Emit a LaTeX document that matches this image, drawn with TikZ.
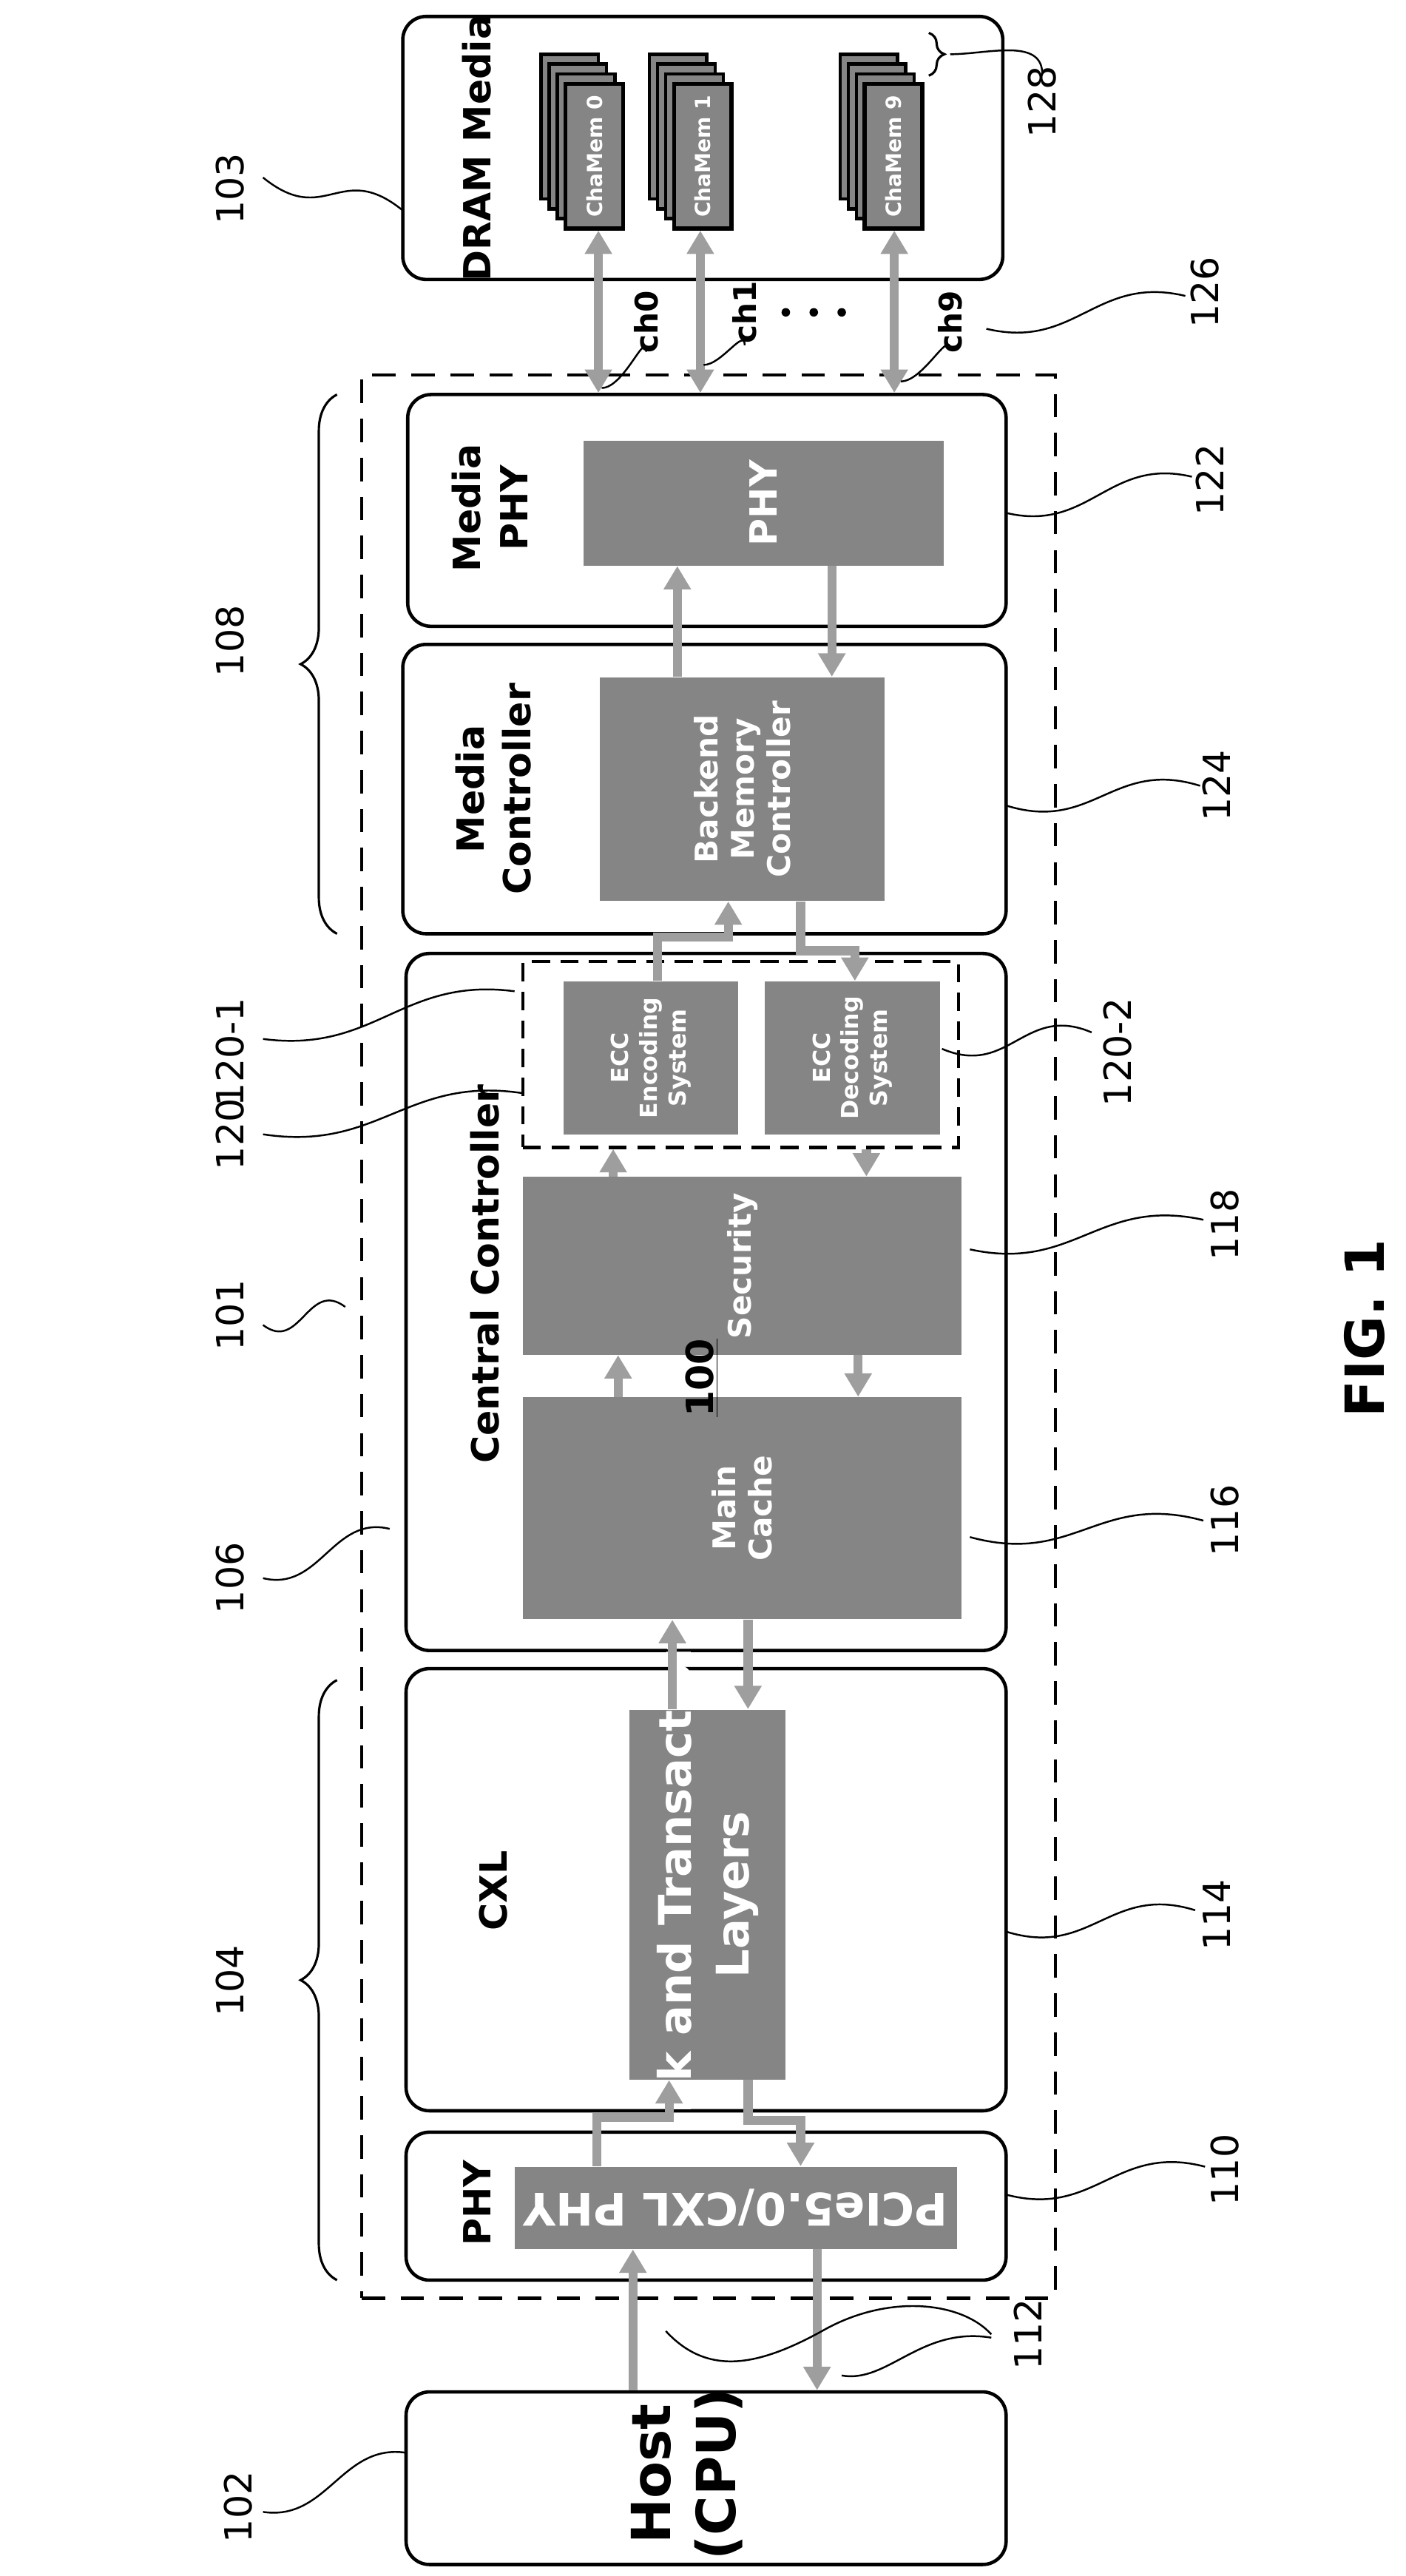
\documentclass[tikz,border=0pt]{standalone}
\usepackage{fontspec}
\setmainfont{DejaVu Sans}
\usetikzlibrary{positioning,fit,calc,arrows.meta,decorations.pathreplacing}
\tikzset{
  box/.style={draw,line width=1.3pt,rounded corners=9pt,inner sep=0pt},
  blk/.style={fill=black!48,inner sep=0pt},
  txt/.style={rotate=90,font=\bfseries\Large,align=center},
  wtxt/.style={rotate=90,font=\bfseries\small,text=white,align=center},
  num/.style={rotate=90,font=\Large},
  bus/.style={line width=3.5pt,draw=black!38,-{Triangle[width=10pt,length=9pt,fill=black!38]}},
  dbus/.style={bus,{Triangle[width=10pt,length=9pt,fill=black!38]}-{Triangle[width=10pt,length=9pt,fill=black!38]}},
  lead/.style={line width=0.7pt},
  brc/.style={line width=0.9pt,decorate,decoration={brace,amplitude=14pt}}
}
\newcommand\leader[2]{\draw[lead] (#1) .. controls ($(#1)!0.45!(#2)+(0,22)$) and ($(#1)!0.55!(#2)+(0,-22)$) .. (#2);}
\begin{document}
\begin{tikzpicture}[x=0.02222cm,y=-0.02222cm]
\useasboundingbox (0,0) rectangle (855,1567);
% outer system
\node (sys) [draw,line width=1.2pt,dash pattern=on 9pt off 6pt,inner sep=0pt,fit={(220,228)(642,1398)}] {};
% DRAM media
\node (dram) [box,fit={(245,10)(610,170)}] {};
\node[txt] at (290,90) {DRAM Media};
\foreach \n/\x in {0/344,1/410,9/526}{
  \foreach \k in {3,2,1}
    \draw[fill=black!48,line width=1.3pt] (\x-5*\k,51-6*\k) rectangle ++(35,88);
  \node (cm\n) [blk,draw,line width=1.6pt,fit={(\x,51)(\x+35,139)}] {};
  \node[wtxt,font=\bfseries\footnotesize] at (cm\n) {ChaMem \n};
}
\draw[brc,decoration={amplitude=6pt}] (565,20) -- (565,46);
% media PHY
\node (mphy) [box,fit={(248,240)(612,381)}] {};
\node (phyi) [blk,fit={(355,268)(574,344)}] {};
\node[txt] at (298,309) {Media\\PHY};
\node[wtxt,font=\bfseries\Large] at (phyi) {PHY};
% media controller
\node (mctl) [box,fit={(245,392)(612,568)}] {};
\node (bmc) [blk,fit={(365,412)(538,548)}] {};
\node[txt] at (300,480) {Media\\Controller};
\node[wtxt,font=\bfseries\large] at (bmc) {Backend\\Memory\\Controller};
% central controller
\node (cctl) [box,fit={(247,580)(612,1004)}] {};
\node[txt] at (295,775) {Central Controller};
\node (ecc) [draw,line width=1.2pt,dash pattern=on 7pt off 4pt,inner sep=0pt,fit={(318,585)(583,698)}] {};
\node (enc) [blk,fit={(343,597)(449,690)}] {};
\node (dec) [blk,fit={(465,597)(572,690)}] {};
\node[wtxt] at (enc) {ECC\\Encoding\\System};
\node[wtxt] at (dec) {ECC\\Decoding\\System};
\node (sec) [blk,fit={(318,716)(585,824)}] {};
\node[wtxt,font=\bfseries\large] at (sec) {Security};
\node (mc) [blk,fit={(318,850)(585,985)}] {};
\node[wtxt,font=\bfseries\large] at (mc) {Main\\Cache};
% CXL
\node (cxl) [box,fit={(247,1015)(612,1284)}] {};
\node[txt] at (300,1150) {CXL};
\node (ltl) [blk,fit={(383,1040)(478,1265)}] {};
\node[wtxt,font=\bfseries\LARGE] at (ltl) {Link and Transaction\\Layers};
% PHY
\node (phy) [box,fit={(247,1297)(612,1387)}] {};
\node (pcie) [blk,fit={(313,1318)(582,1368)}] {};
\node[txt] at (290,1340) {PHY};
\node[rotate=180,text=white,font=\bfseries\LARGE] at (pcie) {PCIe5.0/CXL PHY};
% host
\node (host) [box,fit={(247,1455)(612,1560)}] {};
\node[txt,font=\bfseries\huge] at (418,1505) {Host\\(CPU)};
% channels
\foreach \x/\c in {364/0,426/1,544/9}{
  \coordinate (k\c) at (\x,0);
  \draw[dbus] (cm\c.south -| k\c) -- (mphy.north -| k\c);
}
% buses
\foreach \n/\x in {a/412,b/506,c/400,d/443,e/487,f/520,g/373,h/527,i/376,j/522,k/409,l/455,m/363,n/407,o/487,p/385,q/497}
  \coordinate (\n) at (\x,0);
\draw[bus] (bmc.north -| a) -- (phyi.south -| a);
\draw[bus] (phyi.south -| b) -- (bmc.north -| b);
\draw[bus] (enc.north -| c) -- (400,570) -- (443,570) -- (bmc.south -| d);
\draw[bus] (bmc.south -| e) -- (487,578) -- (520,578) -- (dec.north -| f);
\draw[bus] (sec.north -| g) -- (ecc.south -| g);
\draw[bus] (ecc.south -| h) -- (sec.north -| h);
\draw[bus] (mc.north -| i) -- (sec.south -| i);
\draw[bus] (sec.south -| j) -- (mc.north -| j);
\draw[bus] (ltl.north -| k) -- (mc.south -| k);
\draw[bus] (mc.south -| l) -- (ltl.north -| l);
\draw[bus] (pcie.north -| m) -- (363,1288) -- (407,1288) -- (ltl.south -| n);
\draw[bus] (ltl.south -| l) -- (455,1290) -- (487,1290) -- (pcie.north -| o);
\draw[bus] (host.north -| p) -- (pcie.south -| p);
\draw[bus] (pcie.south -| q) -- (host.north -| q);
% channel labels
\node[num,font=\bfseries\large] (ch0) at (393,196) {ch0};
\node[num,font=\bfseries\large] (ch1) at (453,190) {ch1};
\node[num,font=\bfseries\large] (ch9) at (578,196) {ch9};
\foreach \x in {478,495,512} \fill (\x,190) circle (2.6);
\draw[lead] (393,214) to[out=90,in=0] (366,236);
\draw[lead] (453,210) to[out=90,in=0] (428,222);
\draw[lead] (578,213) to[out=90,in=0] (548,232);
% braces
\draw[brc] (205,568) -- (205,240);
\draw[brc] (205,1387) -- (205,1022);
% reference numerals
\node[num,font=\bfseries\Large] at (427,838) {\underline{100}};
\node[num,font=\bfseries\huge] at (830,808) {FIG. 1};
\node[num] at (140,115) {103}; \leader{160,108}{245,128}
\node[num] at (634,62) {128}; \draw[lead] (578,33) to[out=0,in=90] (634,45);
\node[num] at (733,178) {126}; \leader{600,200}{721,180}
\node[num] at (736,292) {122}; \leader{612,312}{725,290}
\node[num] at (140,390) {108};
\node[num] at (740,478) {124}; \leader{612,490}{730,478}
\node[num] at (140,640) {120-1}; \leader{160,632}{313,603}
\node[num] at (140,690) {120}; \leader{160,690}{318,665}
\node[num] at (680,640) {120-2}; \leader{573,638}{664,628}
\node[num] at (745,745) {118}; \leader{590,760}{732,742}
\node[num] at (140,800) {101}; \leader{160,806}{210,795}
\node[num] at (745,925) {116}; \leader{590,935}{732,925}
\node[num] at (140,960) {106}; \leader{160,960}{237,930}
\node[num] at (740,1165) {114}; \leader{612,1175}{727,1162}
\node[num] at (140,1205) {104};
\node[num] at (745,1320) {110}; \leader{612,1335}{733,1318}
\node[num] at (625,1420) {112};
\draw[lead] (405,1418) .. controls (430,1445) and (460,1440) .. (500,1418) .. controls (540,1395) and (585,1400) .. (603,1420);
\draw[lead] (512,1445) .. controls (540,1450) and (560,1415) .. (603,1422);
\node[num] at (145,1525) {102}; \leader{160,1528}{247,1492}
\end{tikzpicture}
\end{document}
